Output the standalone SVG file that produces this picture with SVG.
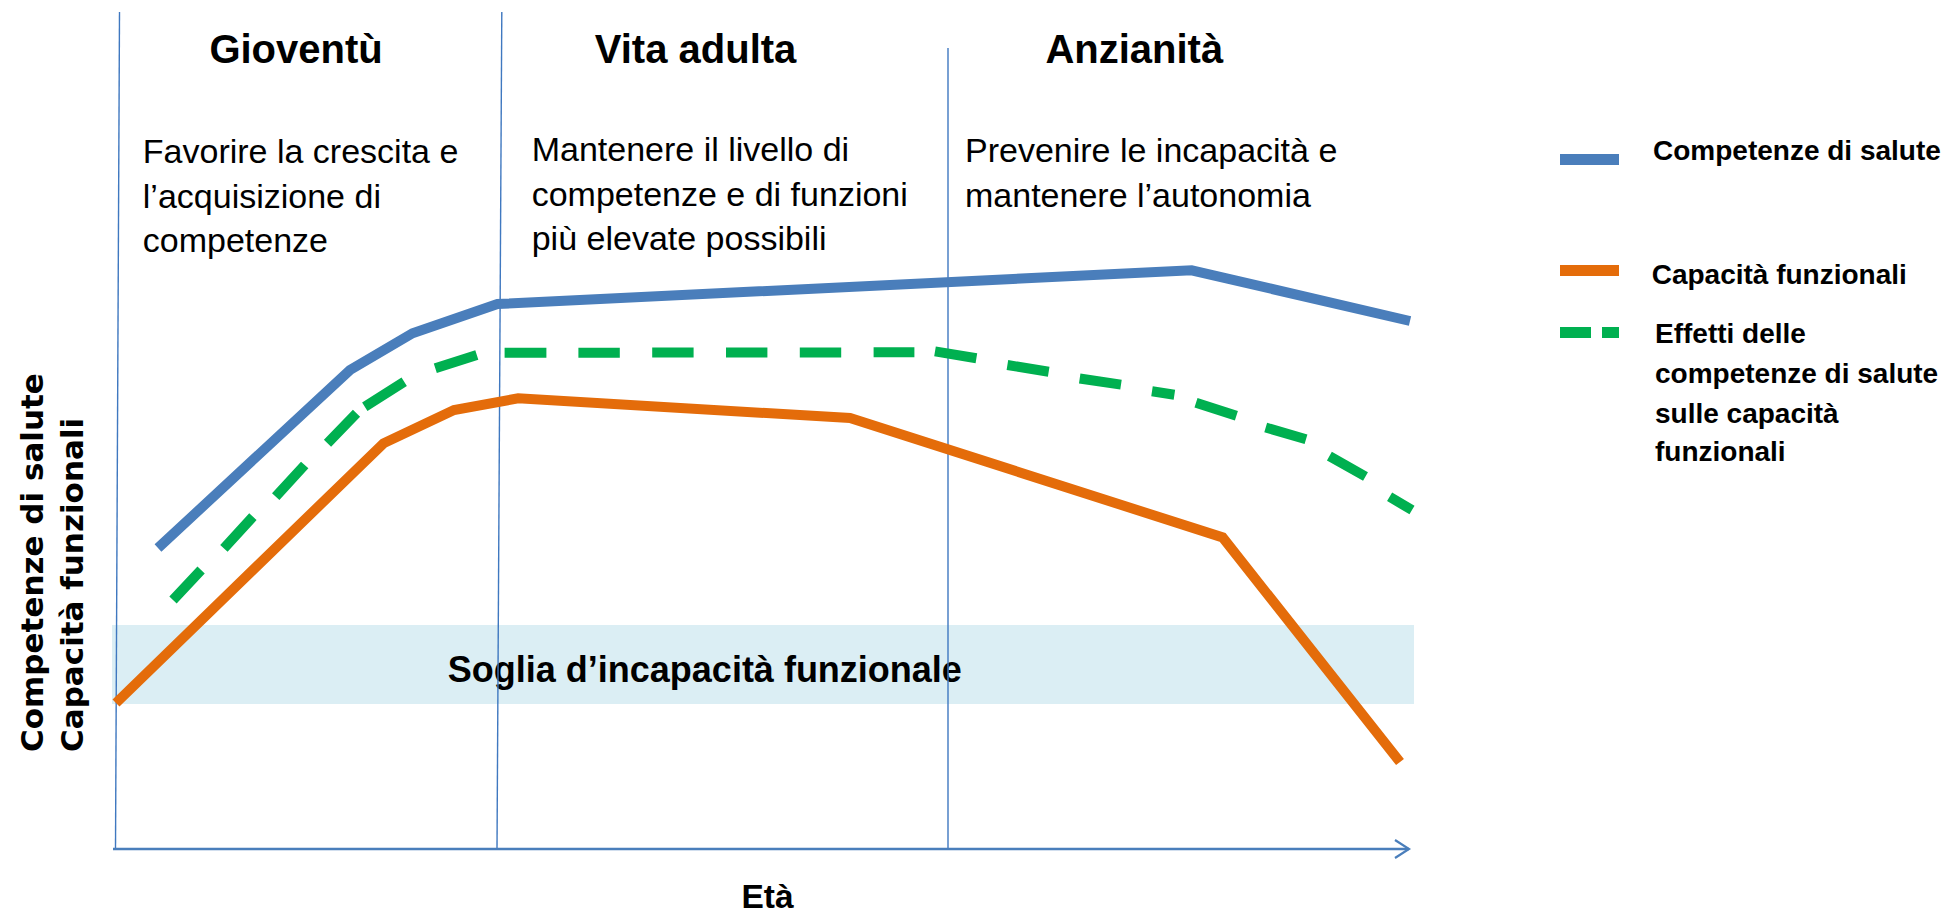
<svg xmlns="http://www.w3.org/2000/svg" width="1950" height="913" viewBox="0 0 1950 913">
<defs>
<style>
text{font-family:"Liberation Sans",Arial,sans-serif;fill:#000}
.title{font-size:40px;font-weight:bold}
.desc{font-size:34px}
.leg{font-size:28px;font-weight:bold}
.ylab{font-family:"DejaVu Sans",Verdana,sans-serif;font-size:31px;font-weight:bold}
.div{stroke:#3f78c0;stroke-width:1.4;fill:none}
.curve{fill:none;stroke-width:10;stroke-linejoin:miter;stroke-linecap:butt}
</style>
<marker id="chev" markerWidth="20" markerHeight="24" refX="15" refY="10" orient="auto" markerUnits="userSpaceOnUse" viewBox="0 0 20 20">
<path d="M1,1 L15,10 L1,19" fill="none" stroke="#4a7ebb" stroke-width="2.2"/>
</marker>
</defs>
<rect width="1950" height="913" fill="#fff"/>

<g id="band">
<rect x="112" y="625" width="1302" height="79" fill="#dbeef4"/>
<text x="447.8" y="681.7" style="font-size:36px;font-weight:bold">Soglia d’incapacità funzionale</text>
</g>

<g id="dividers">
<line class="div" x1="119.5" y1="12" x2="115.5" y2="849"/>
<line class="div" x1="501.8" y1="12" x2="497" y2="849"/>
<line class="div" x1="948" y1="48" x2="948" y2="849"/>
</g>

<g id="phase-gioventu">
<text class="title" x="209.4" y="63.3">Gioventù</text>
<text class="desc" x="142.8" y="163.3">Favorire la crescita e</text>
<text class="desc" x="142.8" y="208.3">l’acquisizione di</text>
<text class="desc" x="142.8" y="252.3">competenze</text>
</g>

<g id="phase-adulta">
<text class="title" x="594.8" y="63.3">Vita adulta</text>
<text class="desc" x="531.7" y="161">Mantenere il livello di</text>
<text class="desc" x="531.7" y="205.5">competenze e di funzioni</text>
<text class="desc" x="531.7" y="250">più elevate possibili</text>
</g>

<g id="phase-anzianita">
<text class="title" x="1045.4" y="63.3">Anzianità</text>
<text class="desc" x="965" y="162">Prevenire le incapacità e</text>
<text class="desc" x="965" y="206.7">mantenere l’autonomia</text>
</g>

<g id="connectors">
<path id="curve-competenze" class="curve" stroke="#4a7ebb" d="M158,548 L350,370 L412.5,333.3 L497.5,304 L1191.6,270.3 L1410,321"/>
<path id="curve-effetti" class="curve" stroke="#00b050" d="M173,600 L201.1,570 M223.9,548.3 L252.9,516.7 M275.7,496.7 L304.7,465 M327.5,443.3 L356.5,413.3 M364.8,406.7 L404.2,381.7 M435.3,368.3 L476.8,355 M504.6,352.7 L546.4,352.7 M578.4,352.7 L619.8,352.7 M652.2,352.6 L693.6,352.6 M726,352.5 L767.4,352.5 M799.8,352.4 L841.2,352.4 M873.6,352.3 L914.4,352.3 M935,351.4 L976.4,358.2 M1007.4,365 L1048.7,371.7 M1079.7,378.5 L1121,384.6 M1152,391.3 L1174.4,394.7 M1196,402.8 L1236.4,415.7 M1265.7,427.5 L1306,439.3 M1329.4,456.2 L1365.5,476.5 M1389.6,496.8 L1412,510"/>
<path id="curve-capacita" class="curve" stroke="#e46c0a" d="M116,703 L383.5,443.3 L454,410 L518.2,398.3 L850,418 L1222.6,537.4 L1400,762"/>
<line id="x-axis" x1="113" y1="849" x2="1409" y2="849" stroke="#4a7ebb" stroke-width="2.5" marker-end="url(#chev)"/>
</g>

<g id="y-axis-label">
<text class="ylab" transform="translate(42.7,752) rotate(-90)">Competenze di salute</text>
<text class="ylab" transform="translate(83.3,752) rotate(-90)">Capacità funzionali</text>
</g>

<g id="x-axis-label">
<text x="741.4" y="908.3" style="font-size:33.5px;font-weight:bold">Età</text>
</g>

<g id="legend-competenze">
<rect x="1560" y="154" width="59" height="11" fill="#4a7ebb"/>
<text class="leg" x="1653" y="160">Competenze di salute</text>
</g>
<g id="legend-capacita">
<rect x="1560" y="265" width="59" height="11" fill="#e46c0a"/>
<text class="leg" x="1651.7" y="284">Capacità funzionali</text>
</g>
<g id="legend-effetti">
<rect x="1560" y="327" width="31" height="11" fill="#00b050"/>
<rect x="1602" y="327" width="17" height="11" fill="#00b050"/>
<text class="leg" x="1655" y="343.3">Effetti delle</text>
<text class="leg" x="1655" y="382.7">competenze di salute</text>
<text class="leg" x="1655" y="422.7">sulle capacità</text>
<text class="leg" x="1655" y="461">funzionali</text>
</g>
</svg>
